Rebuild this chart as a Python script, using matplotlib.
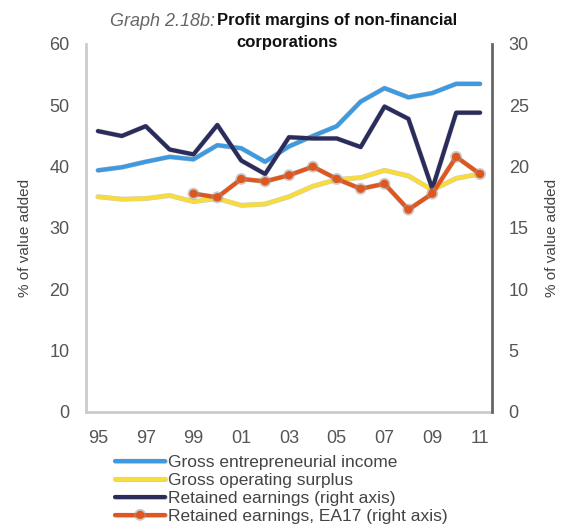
import matplotlib
matplotlib.use("Agg")
import matplotlib.pyplot as plt
import matplotlib.patheffects as pe
import numpy as np

plt.rcParams['font.family'] = ['Liberation Sans', 'DejaVu Sans']

years = ['95', '96', '97', '98', '99', '00', '01', '02', '03', '04', '05',
         '06', '07', '08', '09', '10', '11']
tick_labels = ['95', '97', '99', '01', '03', '05', '07', '09', '11']

gross_entrepreneurial = [39.4, 39.9, 40.8, 41.6, 41.2, 43.5, 43.0, 40.8, 43.3,
                         45.0, 46.6, 50.6, 52.8, 51.3, 52.0, 53.5, 53.5]
gross_operating = [35.1, 34.7, 34.8, 35.3, 34.3, 34.8, 33.7, 33.9, 35.1, 36.8,
                   37.9, 38.2, 39.4, 38.5, 36.2, 38.1, 38.8]
retained_right = [22.9, 22.5, 23.3, 21.4, 21.0, 23.4, 20.5, 19.4, 22.4, 22.3,
                  22.3, 21.6, 24.9, 23.9, 18.2, 24.4, 24.4]
retained_ea17_right = [np.nan, np.nan, np.nan, np.nan, 17.8, 17.5, 19.0, 18.8,
                       19.3, 20.0, 19.0, 18.2, 18.6, 16.5, 17.8, 20.8, 19.4]

labels = ['Gross entrepreneurial income', 'Gross operating surplus',
          'Retained earnings (right axis)', 'Retained earnings, EA17 (right axis)']

fig = plt.figure(figsize=(5.64, 5.29), dpi=100)
ax = fig.add_axes([86/564, 1-412/529, (492-86)/564, (412-44)/529])
ax2 = ax.twinx()

x = np.arange(len(years))
outline = [pe.Stroke(linewidth=3.6, foreground='#9a9a9a', alpha=0.5), pe.Normal()]

l1, = ax.plot(x, gross_entrepreneurial, color='#3d9ae0', lw=3.0, solid_capstyle='round',
              path_effects=outline, zorder=3)
l2, = ax.plot(x, gross_operating, color='#f7dc3c', lw=3.0, solid_capstyle='round',
              path_effects=outline, zorder=3)
l3, = ax2.plot(x, retained_right, color='#2a2c5c', lw=3.0, solid_capstyle='round',
               path_effects=outline, zorder=3)
l4, = ax2.plot(x, retained_ea17_right, color='#e0561f', lw=3.0, marker='o', ms=5,
               solid_capstyle='round', path_effects=outline, zorder=4)

ax.set_xlim(-0.5, len(years) - 0.5)
ax.set_ylim(0, 60)
ax2.set_ylim(0, 30)
ax.set_yticks(np.arange(0, 61, 10))
ax2.set_yticks(np.arange(0, 31, 5))
ax.set_xticks(x[::2])
ax.set_xticklabels(tick_labels)

tc = '#555555'
for a in (ax, ax2):
    a.tick_params(length=0, labelsize=13, colors=tc)
    for s in a.spines.values():
        s.set_visible(False)
ax.tick_params(axis='y', pad=12)
ax.tick_params(axis='x', pad=13)
ax2.tick_params(axis='y', pad=12)
ax.spines['left'].set_visible(True)
ax.spines['left'].set_color('#cccccc')
ax.spines['left'].set_linewidth(2)
ax.spines['bottom'].set_visible(True)
ax.spines['bottom'].set_color('#cccccc')
ax.spines['bottom'].set_linewidth(2)
ax2.spines['right'].set_visible(True)
ax2.spines['right'].set_color('#666666')
ax2.spines['right'].set_linewidth(2)

ax.set_ylabel('% of value added', fontsize=11, color='#444444')
ax2.set_ylabel('% of value added', fontsize=11, color='#444444')
ax.yaxis.set_label_coords(-(86-32)/406, 1-(238-44)/368)
ax2.yaxis.set_label_coords(1+(545-492)/406, 1-(238-44)/368)

fig.text(215/564, 1-21/529, 'Graph 2.18b:', fontsize=13, style='italic', color='#666666',
         ha='right', va='center')
fig.text(217/564, 1-21/529, 'Profit margins of non-financial', fontsize=12,
         weight='bold', color='#111111', ha='left', va='center')
fig.text(287/564, 1-43/529, 'corporations', fontsize=12, weight='bold',
         color='#111111', ha='center', va='center')

leg = fig.legend([l1, l2, l3, l4], labels, loc='upper left',
                 bbox_to_anchor=(115/564, 1-455/529), frameon=False,
                 fontsize=12.5, handlelength=2.9, handletextpad=0.15,
                 labelspacing=0.16, borderaxespad=0, borderpad=0)
for t in leg.get_texts():
    t.set_color('#444444')

fig.savefig('out.png', dpi=100)
